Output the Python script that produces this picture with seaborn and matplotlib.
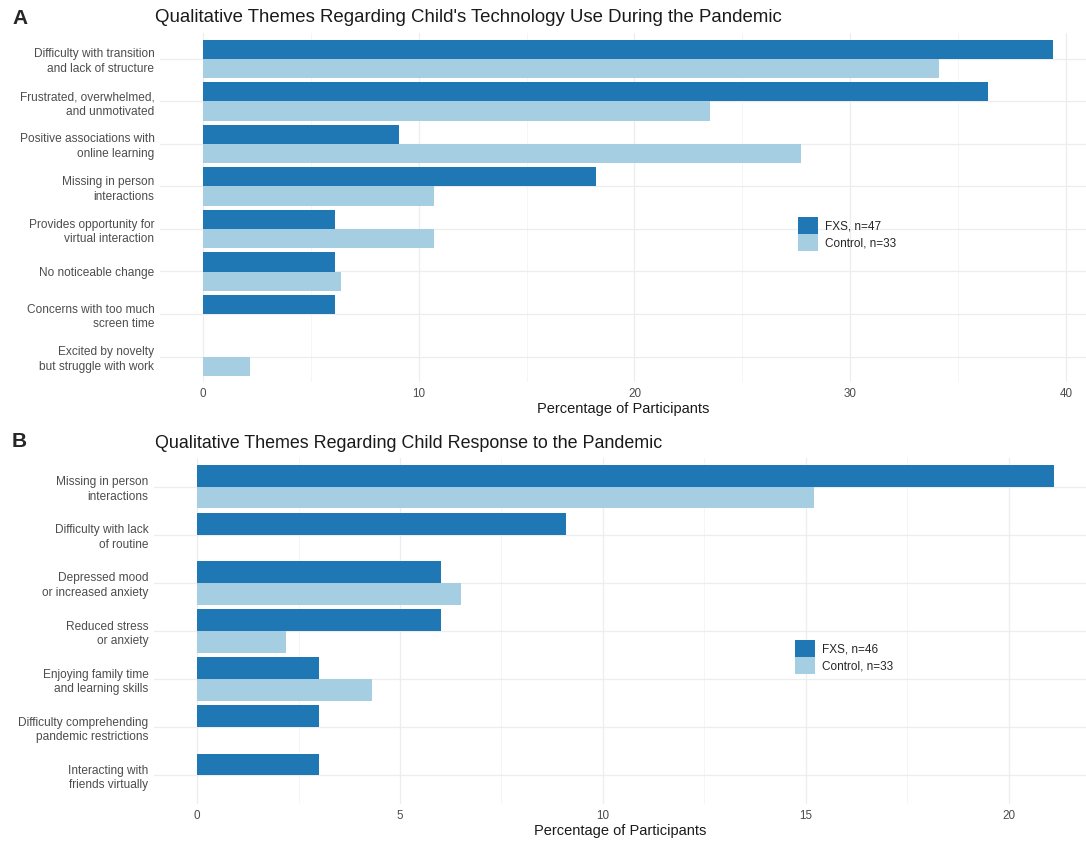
import matplotlib
matplotlib.use("Agg")
import matplotlib.pyplot as plt
from matplotlib.ticker import MultipleLocator, NullFormatter
import seaborn as sns
import pandas as pd

# Panel A: technology use themes (percentage of participants)
tech_themes = [
    "Difficulty with transition\nand lack of structure",
    "Frustrated, overwhelmed,\nand unmotivated",
    "Positive associations with\nonline learning",
    "Missing in person\ninteractions",
    "Provides opportunity for\nvirtual interaction",
    "No noticeable change",
    "Concerns with too much\nscreen time",
    "Excited by novelty\nbut struggle with work",
]
tech_fxs = [39.4, 36.4, 9.1, 18.2, 6.1, 6.1, 6.1, 0.0]
tech_control = [34.1, 23.5, 27.7, 10.7, 10.7, 6.4, 0.0, 2.2]
tech_groups = ["FXS, n=47", "Control, n=33"]

# Panel B: response to the pandemic themes
resp_themes = [
    "Missing in person\ninteractions",
    "Difficulty with lack\nof routine",
    "Depressed mood\nor increased anxiety",
    "Reduced stress\nor anxiety",
    "Enjoying family time\nand learning skills",
    "Difficulty comprehending\npandemic restrictions",
    "Interacting with\nfriends virtually",
]
resp_fxs = [21.1, 9.1, 6.0, 6.0, 3.0, 3.0, 3.0]
resp_control = [15.2, 0.0, 6.5, 2.2, 4.3, 0.0, 0.0]
resp_groups = ["FXS, n=46", "Control, n=33"]

palette_colors = ["#1F78B4", "#A6CEE3"]

sns.set_theme(style="white")
plt.rcParams["font.family"] = ["Liberation Sans", "DejaVu Sans"]

W, H = 1086, 846
fig = plt.figure(figsize=(W / 100, H / 100), dpi=100)


def box(left, top, right, bottom):
    return [left / W, 1 - bottom / H, (right - left) / W, (bottom - top) / H]


def long_frame(themes, fxs, control, groups):
    rows = []
    for t, a, b in zip(themes, fxs, control):
        rows.append({"theme": t, "group": groups[0], "pct": a})
        rows.append({"theme": t, "group": groups[1], "pct": b})
    return pd.DataFrame(rows)


def draw_panel(ax, df, themes, groups, xlim, major, minor, legend_anchor):
    sns.barplot(
        data=df, y="theme", x="pct", hue="group", order=themes,
        hue_order=groups, palette=palette_colors, orient="h",
        width=0.9, saturation=1, errorbar=None, ax=ax, linewidth=0,
    )
    ax.set_xlim(*xlim)
    ax.set_ylim(len(themes) - 0.4, -0.6)
    ax.xaxis.set_major_locator(MultipleLocator(major))
    ax.xaxis.set_minor_locator(MultipleLocator(minor))
    ax.xaxis.set_minor_formatter(NullFormatter())
    ax.set_axisbelow(True)
    ax.grid(which="major", color="#EDEDED", linewidth=0.9)
    ax.grid(which="minor", axis="x", color="#F4F4F4", linewidth=0.6)
    for s in ax.spines.values():
        s.set_visible(False)
    ax.tick_params(axis="both", which="both", length=0)
    ax.tick_params(axis="y", pad=4, labelsize=8.6, labelcolor="#4D4D4D")
    ax.tick_params(axis="x", pad=4, labelsize=8.4, labelcolor="#4D4D4D")
    for lab in ax.get_yticklabels():
        lab.set_multialignment("right")
        lab.set_linespacing(1.3)
    ax.set_ylabel("")
    ax.set_xlabel("Percentage of Participants", fontsize=10.5, color="#1A1A1A",
                  labelpad=2)
    handles, labels = ax.get_legend_handles_labels()
    ax.legend(handles, labels, loc="center left", bbox_to_anchor=legend_anchor,
              frameon=False, fontsize=8.5, handlelength=1.7, handleheight=1.75,
              labelspacing=0.05, handletextpad=0.6, borderaxespad=0)


# Panel A
ax1 = fig.add_axes(box(160, 33.5, 1086, 382))
draw_panel(ax1, long_frame(tech_themes, tech_fxs, tech_control, tech_groups),
           tech_themes, tech_groups, (-1.99, 40.93), 10, 5, (0.684, 0.425))
fig.text(12 / W, 1 - 18 / H, "A", fontsize=15, fontweight="bold",
         va="center", ha="left")
fig.text(155 / W, 1 - 18 / H,
         "Qualitative Themes Regarding Child's Technology Use During the Pandemic",
         fontsize=13.4, va="center", ha="left", color="#1A1A1A")

# Panel B
ax2 = fig.add_axes(box(154, 458, 1086, 804))
draw_panel(ax2, long_frame(resp_themes, resp_fxs, resp_control, resp_groups),
           resp_themes, resp_groups, (-1.06, 21.9), 5, 2.5, (0.683, 0.425))
fig.text(12 / W, 1 - 441 / H, "B", fontsize=15, fontweight="bold",
         va="center", ha="left")
fig.text(155 / W, 1 - 443 / H,
         "Qualitative Themes Regarding Child Response to the Pandemic",
         fontsize=12.9, va="center", ha="left", color="#1A1A1A")

fig.savefig("out.png", dpi=100)
